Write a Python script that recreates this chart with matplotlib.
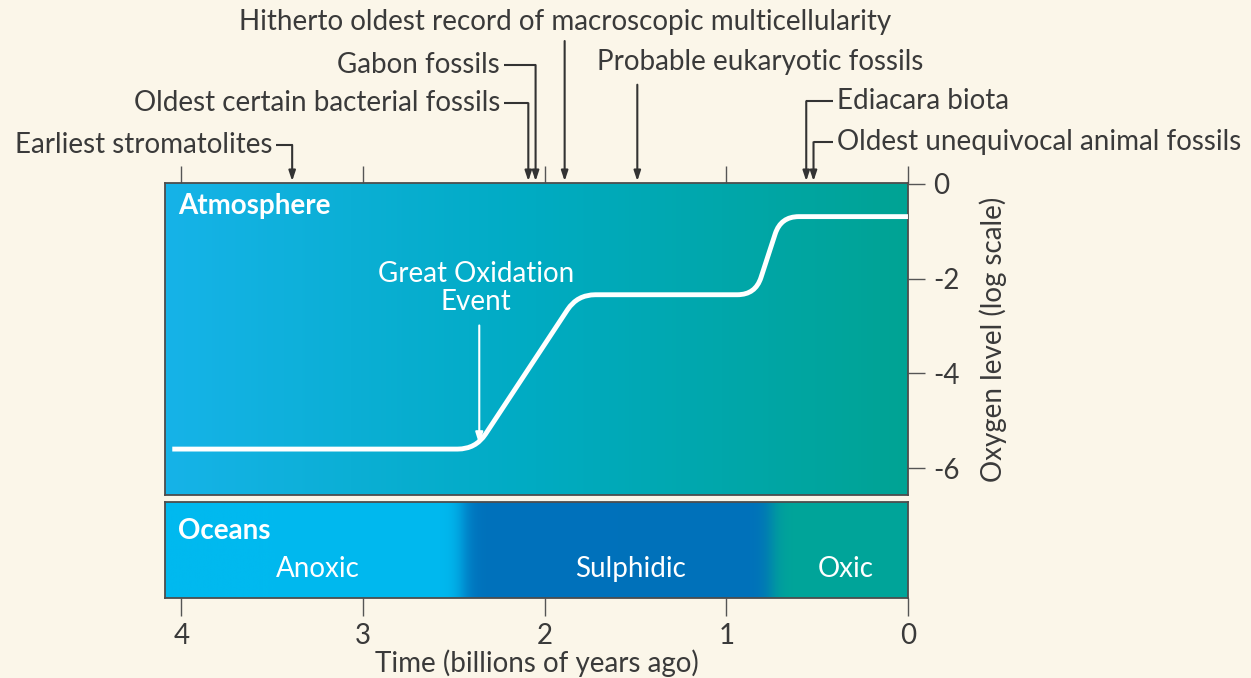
import numpy as np
import matplotlib.pyplot as plt
from matplotlib.colors import LinearSegmentedColormap, to_rgb
from matplotlib.path import Path
from matplotlib.patches import PathPatch

plt.rcParams['font.family'] = ['Lato', 'DejaVu Sans']
plt.rcParams['axes.unicode_minus'] = False

# atmospheric oxygen curve: corner points (age in Gyr ago, log O2 level)
o2_age = [4.05, 2.38, 1.82, 0.84, 0.70, 0.0]
o2_level = [-5.6, -5.6, -2.34, -2.34, -0.69, -0.69]

goe_age = 2.36
goe_level = -5.56

# ocean chemistry
ocean_states = ['Anoxic', 'Sulphidic', 'Oxic']
ocean_bounds = [2.45, 0.75]
ocean_label_age = [3.25, 1.53, 0.34]
ocean_colors = ['#00b9ef', '#0071bb', '#00a599']

# fossil record events
events = ['Earliest stromatolites', 'Oldest certain bacterial fossils',
          'Gabon fossils', 'Hitherto oldest record of macroscopic multicellularity',
          'Probable eukaryotic fossils', 'Ediacara biota',
          'Oldest unequivocal animal fossils']
event_age = [3.39, 2.09, 2.05, 1.89, 1.49, 0.56, 0.52]

xticks = [4, 3, 2, 1, 0]
yticks = [0, -2, -4, -6]

bg = '#fbf6e9'
ink = '#3a3a3a'
edge = '#4d4d4d'
fs = 20

fig = plt.figure(figsize=(12.51, 6.78), dpi=100, facecolor=bg)
ax = fig.add_axes([0.1319, 0.2699, 0.5939, 0.4602])
ax2 = fig.add_axes([0.1319, 0.1180, 0.5939, 0.1416])

xmin, xmax = 4.09, 0.0
ymin, ymax = -6.57, 0.02

# atmosphere background gradient
atm_cmap = LinearSegmentedColormap.from_list('atm', ['#16b3e8', '#00abc2', '#00a394'])
ax.imshow(np.linspace(0, 1, 400)[None, :], cmap=atm_cmap, aspect='auto',
          extent=[xmin, xmax, ymin, ymax], zorder=0)
ax.set_xlim(xmin, xmax)
ax.set_ylim(ymin, ymax)

# oxygen curve with rounded corners
def rounded_path(ax, xs, ys, r=18):
    pts = ax.transData.transform(np.column_stack([xs, ys]))
    verts = [pts[0]]
    codes = [Path.MOVETO]
    for i in range(1, len(pts) - 1):
        p0, p1, p2 = pts[i - 1], pts[i], pts[i + 1]
        d1 = (p0 - p1) / np.linalg.norm(p0 - p1)
        d2 = (p2 - p1) / np.linalg.norm(p2 - p1)
        verts += [p1 + d1 * r, p1, p1 + d2 * r]
        codes += [Path.LINETO, Path.CURVE3, Path.CURVE3]
    verts.append(pts[-1])
    codes.append(Path.LINETO)
    return Path(ax.transData.inverted().transform(np.array(verts)), codes)

ax.add_patch(PathPatch(rounded_path(ax, o2_age, o2_level), fill=False,
                       edgecolor='white', lw=3.5, capstyle='butt', zorder=3))

ax.annotate('', xy=(goe_age, goe_level), xytext=(goe_age, -2.93),
            arrowprops=dict(arrowstyle='-|>,head_length=0.7,head_width=0.22',
                            color='white', lw=1.5))
ax.text(goe_age + 0.02, -2.2, 'Great Oxidation\nEvent', color='white', fontsize=fs,
        ha='center', va='center', linespacing=1.1)
ax.text(0.018, 0.925, 'Atmosphere', transform=ax.transAxes, color='white',
        fontsize=fs, fontweight='bold', ha='left', va='center')

ax.set_xticks(xticks)
ax.tick_params(axis='x', top=True, bottom=False, labeltop=False, labelbottom=False,
               direction='out', length=12, width=1, color='#555555')
ax.yaxis.tick_right()
ax.yaxis.set_label_position('right')
ax.set_yticks(yticks)
ax.set_yticklabels([str(v) for v in yticks])
ax.tick_params(axis='y', direction='out', length=12, width=1, color='#555555',
               labelsize=fs, labelcolor=ink, pad=6)
ax.set_ylabel('Oxygen level (log scale)', fontsize=fs, color=ink, labelpad=14)

# oceans band
xs = np.linspace(xmin, xmax, 1200)
cols = np.array([to_rgb(c) for c in ocean_colors])
w = 0.03
s1 = 1 / (1 + np.exp(-(ocean_bounds[0] - xs) / w))
s2 = 1 / (1 + np.exp(-(ocean_bounds[1] - xs) / w))
band = ((1 - s1)[:, None] * cols[0] + (s1 - s2)[:, None] * cols[1]
        + s2[:, None] * cols[2])
ax2.imshow(band[None, :, :], aspect='auto', extent=[xmin, xmax, 0, 1], zorder=0)
ax2.set_xlim(xmin, xmax)
ax2.set_ylim(0, 1)
for name, age in zip(ocean_states, ocean_label_age):
    ax2.text(age, 0.3, name, color='white', fontsize=fs, ha='center', va='center')
ax2.text(0.018, 0.7, 'Oceans', transform=ax2.transAxes, color='white',
         fontsize=fs, fontweight='bold', ha='left', va='center')
ax2.set_yticks([])
ax2.set_xticks(xticks)
ax2.set_xticklabels([str(v) for v in xticks])
ax2.tick_params(axis='x', direction='out', length=13, width=1, color='#555555',
                labelsize=fs, labelcolor=ink, pad=5)
ax2.set_xlabel('Time (billions of years ago)', fontsize=fs, color=ink, labelpad=0)

for a in (ax, ax2):
    for s in a.spines.values():
        s.set_color(edge)
        s.set_linewidth(1.3)

# fossil record arrows above the panel
trans = ax.get_xaxis_transform()
# (text x, text y, alignment, arrow start y, elbow)
layout = [
    (3.50, 1.122, 'right', 1.122, True),
    (2.245, 1.256, 'right', 1.256, True),
    (2.245, 1.378, 'right', 1.378, True),
    (1.89, 1.516, 'center', 1.455, False),
    (0.815, 1.388, 'center', 1.315, False),
    (0.39, 1.262, 'left', 1.262, True),
    (0.39, 1.131, 'left', 1.131, True),
]
for name, age, (tx, ty, ha, y0, elbow) in zip(events, event_age, layout):
    ax.text(tx, ty, name, transform=trans, fontsize=fs, color=ink, ha=ha,
            va='center')
    if elbow:
        gap = 0.02 if ha == 'right' else -0.02
        ax.plot([tx - gap, age], [y0, y0], transform=trans, color='#333333',
                lw=1.5, clip_on=False, solid_capstyle='butt')
    ax.annotate('', xy=(age, 1.006), xytext=(age, y0), xycoords=trans,
                textcoords=trans, annotation_clip=False,
                arrowprops=dict(arrowstyle='-|>,head_length=0.6,head_width=0.2',
                                color='#333333', lw=1.5, shrinkA=0, shrinkB=0))

fig.savefig('out.png', dpi=100, facecolor=bg)
